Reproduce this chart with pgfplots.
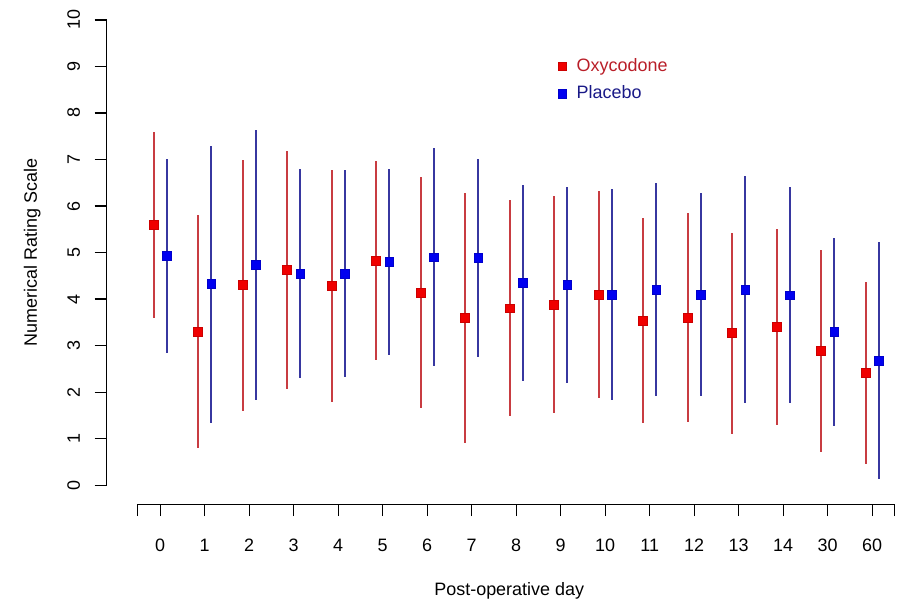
\documentclass[border=0pt]{standalone}
\usepackage{fontspec}
\setmainfont{Liberation Sans}
\usepackage{pgfplots}
\usepackage{pgfplotstable}
\pgfplotsset{compat=1.18}

\definecolor{oxymark}{RGB}{240,0,0}
\definecolor{oxyline}{RGB}{200,60,65}
\definecolor{oxytext}{RGB}{185,30,40}
\definecolor{plamark}{RGB}{0,0,240}
\definecolor{plaline}{RGB}{55,55,160}
\definecolor{platext}{RGB}{25,25,135}

% mean and SD per day (index 15 = day 30, 16 = day 60)
\pgfplotstableread{
x  oxy  oxysd pla  plasd
0  5.60 2.00  4.93 2.09
1  3.30 2.51  4.32 2.98
2  4.30 2.70  4.74 2.90
3  4.63 2.56  4.55 2.25
4  4.28 2.50  4.55 2.22
5  4.83 2.14  4.80 2.00
6  4.14 2.48  4.90 2.34
7  3.60 2.69  4.88 2.13
8  3.80 2.32  4.35 2.11
9  3.88 2.33  4.30 2.10
10 4.10 2.23  4.09 2.27
11 3.54 2.21  4.20 2.29
12 3.60 2.24  4.10 2.19
13 3.27 2.16  4.20 2.44
14 3.40 2.10  4.08 2.32
15 2.88 2.17  3.29 2.02
16 2.41 1.96  2.68 2.54
}\nrs

\begin{document}
\begin{tikzpicture}[font=\fontsize{9}{11}\selectfont]
\begin{axis}[
  scale only axis,
  width=395pt,
  height=242.85pt,
  xmin=-1.203, xmax=16.498,
  ymin=-0.41, ymax=10,
  clip=false,
  axis x line=bottom,
  axis y line=left,
  axis line style={draw=none},
  tick align=outside,
  major tick length=6pt,
  tick style={black, line width=0.6pt},
  xtick={0,...,16},
  xticklabels={0,1,2,3,4,5,6,7,8,9,10,11,12,13,14,30,60},
  xticklabel style={yshift=-8pt},
  extra x ticks={-0.509,16.498},
  extra x tick labels={},
  ytick={0,...,10},
  yticklabel style={xshift=-7.5pt, rotate=90, anchor=base},
  /pgf/number format/assume math mode=true,
  every tick label/.append style={font=\fontsize{9}{11}\selectfont},
  legend style={at={(axis cs:8.93,9.27)}, anchor=north west, draw=none, fill=none,
    font=\fontsize{9}{11}\selectfont, row sep=1.6pt, inner sep=0pt},
  legend cell align=left,
  legend image code/.code={\draw[#1] plot coordinates {(0pt,0pt)};
    \path[draw=none, fill=none] (-2.2pt,0pt) rectangle (5.2pt,0.1pt);},
]
\draw[line width=0.6pt] (axis cs:-0.509,-0.41) -- (axis cs:16.498,-0.41);
\draw[line width=0.6pt] (axis cs:-1.203,0) -- (axis cs:-1.203,10);

\addplot[only marks, mark=square*, mark size=2.2pt,
  mark options={fill=oxymark, draw=oxymark!85!black, line width=0.3pt},
  error bars/.cd, y dir=both, y explicit, error mark=none,
  error bar style={line width=1pt, oxyline}]
  table[x expr=\thisrow{x}-0.15, y=oxy, y error=oxysd] {\nrs};
\addlegendentry{\textcolor{oxytext}{Oxycodone}}

\addplot[only marks, mark=square*, mark size=2.2pt,
  mark options={fill=plamark, draw=plamark!85!black, line width=0.3pt},
  error bars/.cd, y dir=both, y explicit, error mark=none,
  error bar style={line width=1pt, plaline}]
  table[x expr=\thisrow{x}+0.15, y=pla, y error=plasd] {\nrs};
\addlegendentry{\textcolor{platext}{Placebo}}
\end{axis}
\node[rotate=90, anchor=base] at (-35pt,126.35pt) {Numerical Rating Scale};
\node[anchor=base] at (201.85pt,-45.65pt) {Post-operative day};
\path (-53.5pt,-48.6pt) rectangle (397pt,252.85pt);
\end{tikzpicture}
\end{document}
